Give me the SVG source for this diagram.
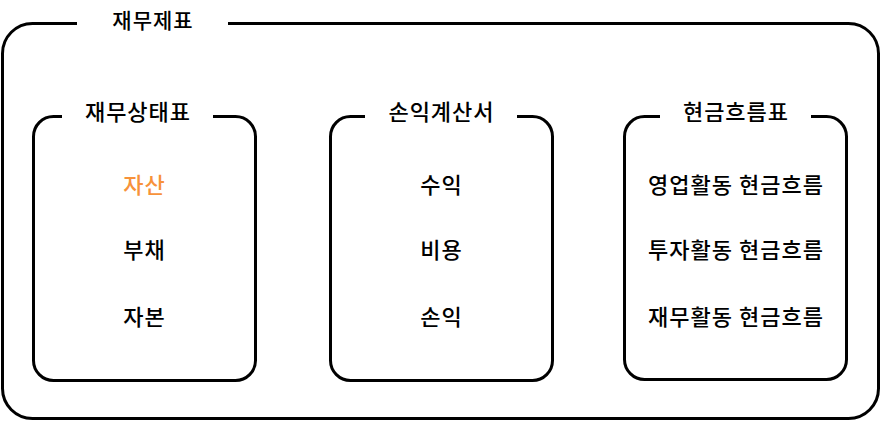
<svg xmlns="http://www.w3.org/2000/svg" width="881" height="421" viewBox="0 0 881 421">
<style>
.box{fill:none;stroke:#000;stroke-width:3;}
.gap{stroke:#fff;stroke-width:6;}
text{font-family:"Noto Sans CJK KR","Noto Sans",sans-serif;font-size:22px;font-weight:500;letter-spacing:1px;fill:#000;text-anchor:middle;dominant-baseline:central;}
.hl{fill:#F7923A;}
</style>
<rect width="881" height="421" fill="#fff"/>
<g id="financial-statements">
<rect class="box" x="2.5" y="23.5" width="876" height="395" rx="30"/>
<line class="gap" x1="77" y1="23.5" x2="228" y2="23.5"/>
<text x="153" y="19" style="font-size:21px">재무제표</text>
</g>
<g id="balance-sheet">
<rect class="box" x="33.5" y="116.5" width="222" height="264" rx="20"/>
<line class="gap" x1="62" y1="116.5" x2="213" y2="116.5"/>
<text x="138" y="110">재무상태표</text>
<text class="hl" x="144.5" y="183">자산</text>
<text x="144.5" y="248">부채</text>
<text x="144.5" y="315">자본</text>
</g>
<g id="income-statement">
<rect class="box" x="330.5" y="116.5" width="222" height="264" rx="20"/>
<line class="gap" x1="365" y1="116.5" x2="517" y2="116.5"/>
<text x="441.5" y="110">손익계산서</text>
<text x="441.5" y="183">수익</text>
<text x="441.5" y="248">비용</text>
<text x="441.5" y="315">손익</text>
</g>
<g id="cash-flow-statement">
<rect class="box" x="624.5" y="116.5" width="222" height="263" rx="20"/>
<line class="gap" x1="660" y1="116.5" x2="811" y2="116.5"/>
<text x="736" y="110">현금흐름표</text>
<text x="736" y="183">영업활동 현금흐름</text>
<text x="736" y="248">투자활동 현금흐름</text>
<text x="736" y="315">재무활동 현금흐름</text>
</g>
<g id="connectors"/>
</svg>
